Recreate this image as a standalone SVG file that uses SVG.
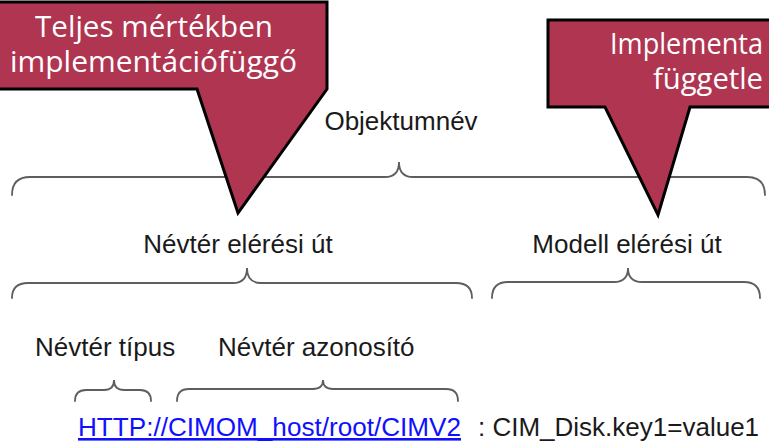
<svg xmlns="http://www.w3.org/2000/svg" width="769" height="448" viewBox="0 0 769 448">
  <style>
    .lbl { font-family: "Liberation Sans", Arial, sans-serif; font-size: 26px; fill: #1a1a1a; }
    .brace { fill: none; stroke: #5e5e5e; stroke-width: 1.8; stroke-linecap: round; }
    .callout { fill: #AF3551; stroke: #000; stroke-width: 3; stroke-linejoin: miter; }
    .ctext { font-family: "Open Sans", "Noto Sans", sans-serif; font-size: 30px; fill: #ffffff; }
    .url { fill: #1010ff; text-decoration: underline; }
  </style>
  <rect width="769" height="448" fill="#ffffff"/>

  <g id="connectors">
    <path class="brace" d="M12,195 Q12,177 30,177 H385 Q399,177 399,162 Q399,177 413,177 H747 Q765,177 765,195"/>
    <path class="brace" d="M12,298 Q12,283 28,283 H233 Q247,283 247,268 Q247,283 261,283 H456 Q472,283 472,298"/>
    <path class="brace" d="M492,298 Q492,282 508,282 H614 Q628,282 628,268 Q628,282 642,282 H744 Q760,282 760,298"/>
    <path class="brace" d="M75,401 Q75,390 86,390 H104 Q114,390 114,380 Q114,390 124,390 H140 Q151,390 151,401"/>
    <path class="brace" d="M177,401 Q177,389 189,389 H313 Q323,389 323,380 Q323,389 333,389 H446 Q458,389 458,401"/>
  </g>

  <g id="objektumnev">
    <text class="lbl" x="401" y="130" text-anchor="middle">Objektumnév</text>
  </g>
  <g id="nevter-eleresi-ut">
    <text class="lbl" x="238" y="253" text-anchor="middle">Névtér elérési út</text>
  </g>
  <g id="modell-eleresi-ut">
    <text class="lbl" x="627" y="253" text-anchor="middle">Modell elérési út</text>
  </g>
  <g id="nevter-tipus">
    <text class="lbl" x="35" y="356">Névtér típus</text>
  </g>
  <g id="nevter-azonosito">
    <text class="lbl" x="218" y="356">Névtér azonosító</text>
  </g>
  <g id="pelda">
    <text class="lbl url" x="78" y="436" textLength="383" lengthAdjust="spacingAndGlyphs">HTTP://CIMOM_host/root/CIMV2</text>
    <text class="lbl" x="478" y="436">: CIM_Disk.key1=value1</text>
  </g>

  <g id="callout-fuggo">
    <polygon class="callout" points="-5,2 327,2 327,89 238,213 197,89 -5,89"/>
    <text class="ctext" x="35" y="37" textLength="238" lengthAdjust="spacingAndGlyphs">Teljes mértékben</text>
    <text class="ctext" x="10" y="72" textLength="287" lengthAdjust="spacingAndGlyphs">implementációfüggő</text>
  </g>
  <g id="callout-fuggetlen">
    <polygon class="callout" points="548,20 780,20 780,107 690,107 658,215 605,107 548,107"/>
    <text class="ctext" x="610" y="54" textLength="153" lengthAdjust="spacingAndGlyphs">Implementa</text>
    <text class="ctext" x="653" y="89" textLength="110" lengthAdjust="spacingAndGlyphs">függetle</text>
  </g>
</svg>
